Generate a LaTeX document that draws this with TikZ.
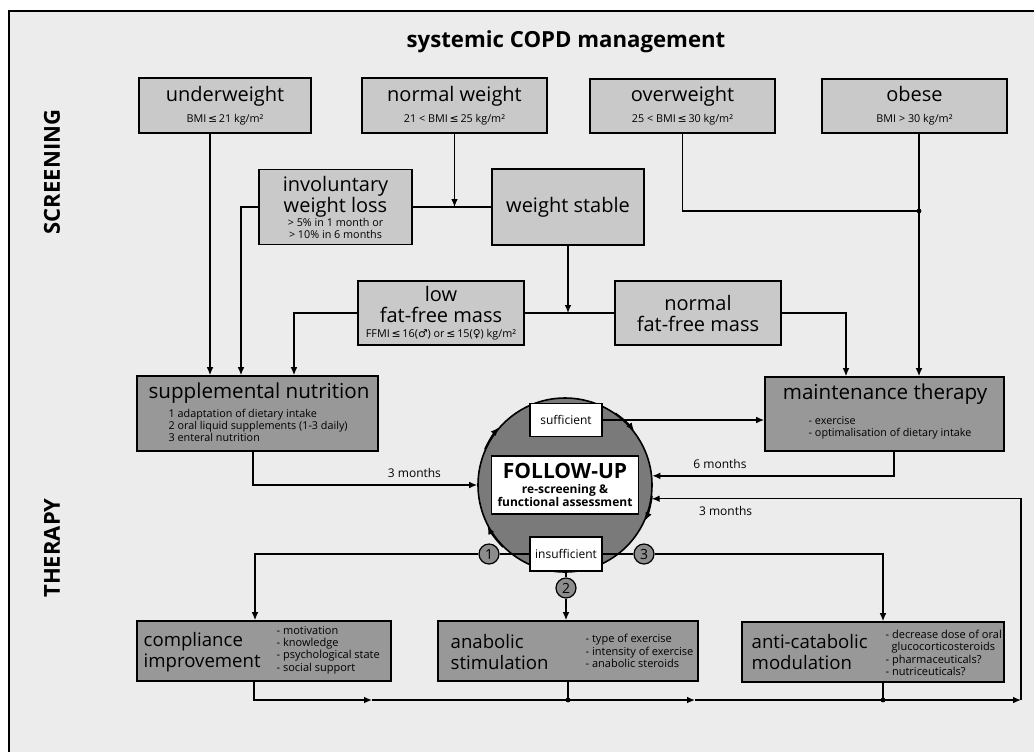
\documentclass[tikz,border=0pt]{standalone}
\usepackage{fontspec}
\setmainfont{Open Sans}
\newfontfamily\symf{DejaVu Sans}
\usetikzlibrary{shapes,arrows.meta}
\definecolor{bgray}{RGB}{236,236,236}
\definecolor{lgray}{RGB}{201,201,201}
\definecolor{dgray}{RGB}{152,152,152}
\definecolor{cgray}{RGB}{122,122,122}
\definecolor{ngray}{RGB}{140,140,140}
\newcommand{\bigf}{\fontsize{10}{10.5}\selectfont}
\newcommand{\smallf}{\fontsize{5.4}{6}\selectfont}
\newcommand{\listf}{\fontsize{5.5}{6.2}\selectfont}
\newcommand{\monthf}{\fontsize{6}{7}\selectfont}
\newcommand{\lesign}{{\symf ≤}}

\begin{document}
\begin{tikzpicture}[x=0.5pt,y=-0.5pt,>={Latex[length=4pt,width=3.4pt]},line width=0.7pt]
      \tikzstyle{lbox}=[rectangle,draw,fill=lgray,align=center,inner sep=0pt,line width=0.8pt,font=\bigf]
      \tikzstyle{dbox}=[rectangle,draw,fill=dgray,inner sep=0pt,line width=0.8pt]
      \tikzstyle{wbox}=[rectangle,draw,fill=white,align=center,inner sep=0pt,line width=0.8pt]
      \tikzstyle{numc}=[circle,draw,fill=ngray,inner sep=0pt,minimum size=10pt,line width=0.6pt,font=\fontsize{7}{7}\selectfont]
      \tikzstyle{lst}=[anchor=west,align=left,inner sep=0pt,font=\smallf]
      \tikzstyle{ttl}=[inner sep=0pt,font=\fontsize{10.3}{10.5}\selectfont]
      \tikzstyle{btl}=[inner sep=0pt,anchor=west,align=left,font=\fontsize{9.3}{10.5}\selectfont]
      \tikzstyle{jdot}=[circle,fill,inner sep=0pt,minimum size=2.4pt]
      \useasboundingbox (0,0) rectangle (1034,751);
      \clip (0,0) rectangle (1034,751);
      \fill[white] (0,0) rectangle (1034,751);
      \draw[fill=bgray] (9,11) rectangle (1060,780);

      \node[font=\bfseries\fontsize{11.1}{12}\selectfont] (title) at (566,42) {systemic COPD management};
      \node[rotate=90,font=\bfseries\fontsize{11}{12}\selectfont] (scr) at (52,172) {SCREENING};
      \node[rotate=90,font=\bfseries\fontsize{11}{12}\selectfont] (ther) at (52,548) {THERAPY};

      \node[lbox,minimum width=86pt,minimum height=27.5pt] (under) at (225,105.5)
        {underweight\\\smallf BMI\,\lesign\,21 kg/m²};
      \node[lbox,minimum width=92.5pt,minimum height=27.5pt] (normw) at (454.5,105.5)
        {normal weight\\\smallf 21 < BMI\,\lesign\,25 kg/m²};
      \node[lbox,minimum width=92.5pt,minimum height=27pt] (over) at (682.5,106)
        {overweight\\\smallf 25 < BMI\,\lesign\,30 kg/m²};
      \node[lbox,minimum width=92.5pt,minimum height=27pt] (obese) at (914.5,106)
        {obese\\\smallf BMI > 30 kg/m²};
      \node[lbox,minimum width=76.5pt,minimum height=37.5pt] (invol) at (335.5,207)
        {involuntary\\weight loss\\[-3.5pt]\smallf > 5\% in 1 month or\\[-4.5pt]\smallf > 10\% in 6 months};
      \node[lbox,minimum width=76pt,minimum height=38pt] (stable) at (568,207) {weight stable};
      \node[lbox,minimum width=83pt,minimum height=32pt] (lowffm) at (441,313)
        {low\\fat-free mass\\[-3pt]\smallf FFMI\,\lesign\,16({\symf ♂}) or\,\lesign\,15({\symf ♀}) kg/m²};
      \node[lbox,minimum width=83pt,minimum height=32pt] (normffm) at (698,313) {normal\\fat-free mass};

      \node[dbox,minimum width=120.5pt,minimum height=37.5pt] (supp) at (257.5,413.5) {};
      \node[ttl] (supptitle) at (259,393) {supplemental nutrition};
      \node[lst] (supplist) at (168,425) {1 adaptation of dietary intake\\2 oral liquid supplements (1-3 daily)\\3 enteral nutrition};
      \node[dbox,minimum width=119.5pt,minimum height=37pt] (maint) at (884.5,414) {};
      \node[ttl] (mainttitle) at (885,394) {maintenance therapy};
      \node[lst] (maintlist) at (808,428) {- exercise\\- optimalisation of dietary intake};

      \node[circle,draw,fill=cgray,minimum size=87pt,inner sep=0pt,line width=0.8pt] (cyc) at (565,485) {};
      \draw[->] (cyc.156) arc[start angle=156,end angle=139,radius=43.5pt];
      \draw[->] (cyc.55) arc[start angle=55,end angle=38,radius=43.5pt];
      \draw[->] (cyc.-7) arc[start angle=-7,end angle=-24,radius=43.5pt];
      \draw[->] (cyc.225) arc[start angle=225,end angle=208,radius=43.5pt];
      \node[wbox,minimum width=73.5pt,minimum height=29pt,font=\bfseries\fontsize{10.5}{10.5}\selectfont] (fu) at (565,485)
        {FOLLOW-UP\\[-3pt]\fontsize{6}{6}\selectfont re-screening \&\\[-4pt]\fontsize{6}{6}\selectfont functional assessment};
      \node[wbox,minimum width=36pt,minimum height=16.5pt,font=\fontsize{6}{7}\selectfont] (suff) at (566,420) {sufficient};
      \node[wbox,minimum width=36pt,minimum height=17pt,font=\fontsize{6}{7}\selectfont] (insuff) at (566,554) {insufficient};

      \node[dbox,minimum width=127pt,minimum height=30pt] (compl) at (264,651) {};
      \node[btl] (compltitle) at (143,652) {compliance\\improvement};
      \node[lst,font=\listf] (compllist) at (276,650) {- motivation\\- knowledge\\- psychological state\\- social support};
      \node[dbox,minimum width=130pt,minimum height=30pt] (anab) at (568,651) {};
      \node[btl] (anabtitle) at (450,652) {anabolic\\stimulation};
      \node[lst,font=\listf] (anablist) at (585,651) {- type of exercise\\- intensity of exercise\\- anabolic steroids};
      \node[dbox,minimum width=131pt,minimum height=30pt] (anti) at (873,652) {};
      \node[btl] (antititle) at (751,652) {anti-catabolic\\modulation};
      \node[lst,font=\listf] (antilist) at (885,653) {- decrease dose of oral\\\hspace{3pt}glucocorticosteroids\\- pharmaceuticals?\\- nutriceuticals?};

      \node[numc] (n1) at (489,554) {1};
      \node[numc] (n2) at (566,588) {2};
      \node[numc] (n3) at (644,554) {3};

      \coordinate (jo) at (919,211);
      \coordinate (b1) at (372,700);
      \coordinate (b2) at (568,700);
      \coordinate (b3) at (695,700);
      \coordinate (b4) at (883,700);
      \coordinate (rc) at (1021,700);

      \draw[->] (under.south -| 210,0) -- (supp.north -| 210,0);
      \draw[->] (invol) -| (supp.north -| 241,0);
      \draw (invol) -- (stable);
      \draw[->] (normw) -- (normw |- invol.east);
      \draw (over) |- (jo);
      \draw[->] (obese.south -| jo) -- (maint.north -| jo);
      \node[jdot] at (jo) {};
      \draw (lowffm) -- (normffm);
      \draw[->] (stable) -- (stable |- lowffm.east);
      \draw[->] (lowffm) -| (supp.north -| 294,0);
      \draw[->] (normffm) -| (maint.north -| 846,0);

      \draw[->] (supp.south -| 253,0) |- (cyc.west) node[pos=0.86,above,font=\monthf] {3 months};
      \draw[->] (suff) -- (maint.west |- suff);
      \draw[->] (maint.south -| 894,0) |- (cyc.6.6) node[pos=0.86,above,font=\monthf] {6 months};
      \draw (insuff) -- (n1);
      \draw[->] (n1) -| (compl.north -| 255,0);
      \draw (insuff) -- (n2);
      \draw[->] (n2) -- (n2 |- anab.north);
      \draw (insuff) -- (n3);
      \draw[->] (n3) -| (anti.north -| b4);

      \draw[->] (compl.south -| 254,0) |- (b1);
      \draw (b1) -- (b2);
      \draw (anab.south -| b2) -- (b2);
      \draw[->] (b2) -- (b3);
      \draw (b3) -- (b4);
      \draw (anti.south -| b4) -- (b4);
      \draw[->] (b4) -- (rc);
      \draw[->] (rc) |- (cyc.-9.9) node[pos=0.9,below,font=\monthf] {3 months};
      \node[jdot] at (b2) {};
      \node[jdot] at (b4) {};
\end{tikzpicture}
\end{document}
